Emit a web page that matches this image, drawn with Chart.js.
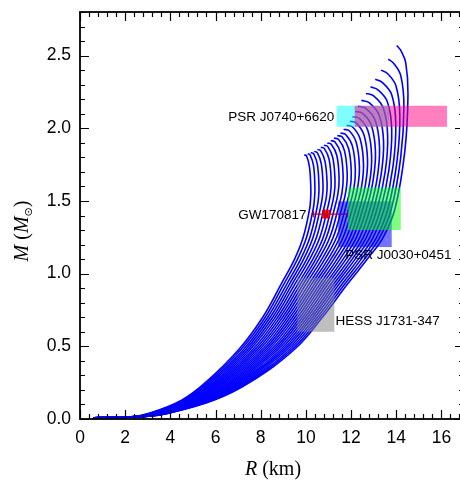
<!DOCTYPE html>
<html><head><meta charset="utf-8">
<script src="https://cdn.jsdelivr.net/npm/chart.js@4"></script>
<style>
html,body{margin:0;padding:0;overflow:hidden;background:#fff;width:460px;height:481px;}
canvas{display:block;}
</style></head>
<body>
<canvas id="c" width="470" height="481" style="width:470px;height:481px"></canvas>
<script>
// Mass levels (M_sun) shared by the lower branch of every curve
const LEVEL_M = [0.008, 0.015, 0.04, 0.13, 0.25, 0.48, 0.70, 0.93, 1.10, 1.25, 1.45];
// Radius (km) of each curve at those mass levels (curve 0 = leftmost)
const LOWER_R = [
 [0.6,2.23,3.07,4.50,5.55,7.04,8.09,8.91,9.50,9.88,10.17],
 [0.6,2.26,3.11,4.56,5.63,7.14,8.20,9.03,9.63,10.03,10.33],
 [0.6,2.28,3.14,4.62,5.71,7.25,8.31,9.16,9.77,10.18,10.49],
 [0.6,2.31,3.18,4.68,5.79,7.35,8.42,9.28,9.90,10.32,10.64],
 [0.6,2.33,3.22,4.74,5.88,7.45,8.53,9.40,10.04,10.47,10.80],
 [0.6,2.36,3.25,4.80,5.96,7.55,8.64,9.52,10.17,10.62,10.96],
 [0.6,2.38,3.29,4.86,6.04,7.66,8.75,9.65,10.31,10.77,11.12],
 [0.6,2.41,3.33,4.92,6.12,7.76,8.86,9.77,10.44,10.91,11.27],
 [0.6,2.44,3.36,4.98,6.20,7.86,8.97,9.89,10.57,11.06,11.43],
 [0.6,2.46,3.40,5.04,6.28,7.96,9.08,10.01,10.71,11.21,11.59],
 [0.6,2.49,3.44,5.10,6.36,8.07,9.19,10.14,10.84,11.36,11.75],
 [0.6,2.51,3.47,5.16,6.44,8.17,9.30,10.26,10.98,11.50,11.90],
 [0.6,2.54,3.51,5.22,6.53,8.27,9.41,10.38,11.11,11.65,12.06],
 [0.6,2.57,3.55,5.29,6.61,8.37,9.52,10.50,11.24,11.80,12.22],
 [0.6,2.59,3.58,5.35,6.69,8.48,9.63,10.63,11.38,11.95,12.38],
 [0.6,2.62,3.62,5.41,6.77,8.58,9.74,10.75,11.51,12.09,12.53],
 [0.6,2.64,3.66,5.47,6.85,8.68,9.85,10.87,11.65,12.24,12.69],
 [0.6,2.67,3.69,5.53,6.93,8.78,9.96,10.99,11.78,12.39,12.85],
 [0.6,2.69,3.73,5.59,7.01,8.89,10.07,11.12,11.92,12.54,13.01],
 [0.6,2.72,3.77,5.65,7.09,8.99,10.18,11.24,12.05,12.68,13.16],
 [0.6,2.75,3.80,5.71,7.18,9.09,10.29,11.36,12.18,12.83,13.32],
 [0.6,2.77,3.84,5.77,7.26,9.19,10.40,11.48,12.32,12.98,13.48],
 [0.6,2.80,3.88,5.83,7.34,9.30,10.51,11.61,12.45,13.13,13.64],
 [0.6,2.82,3.91,5.89,7.42,9.40,10.62,11.73,12.59,13.27,13.79],
 [0.6,2.85,3.95,5.95,7.50,9.50,10.73,11.85,12.72,13.42,13.95]
];
// Upper branch (turn-over and end of each curve): radius (km)
const UPPER_R = [
 [10.21,10.22,10.16,10.03,9.93],
 [10.38,10.40,10.34,10.19,10.08],
 [10.56,10.58,10.51,10.35,10.22],
 [10.73,10.76,10.68,10.51,10.37],
 [10.91,10.94,10.85,10.66,10.51],
 [11.08,11.12,11.03,10.82,10.66],
 [11.25,11.29,11.19,10.97,10.80],
 [11.42,11.47,11.37,11.13,10.95],
 [11.60,11.65,11.54,11.29,11.10],
 [11.77,11.83,11.71,11.45,11.24],
 [11.95,12.01,11.89,11.61,11.39],
 [12.12,12.19,12.06,11.76,11.53],
 [12.29,12.37,12.23,11.92,11.67],
 [12.47,12.55,12.40,12.07,11.81],
 [12.64,12.73,12.57,12.22,11.95],
 [12.82,12.91,12.74,12.36,12.06],
 [12.98,13.08,12.90,12.50,12.18],
 [13.16,13.26,13.07,12.64,12.31],
 [13.33,13.44,13.24,12.80,12.46],
 [13.51,13.62,13.43,13.00,12.66],
 [13.68,13.80,13.61,13.19,12.86],
 [13.86,13.98,13.80,13.39,13.07],
 [14.03,14.16,13.99,13.62,13.33],
 [14.20,14.34,14.20,13.89,13.65],
 [14.38,14.52,14.42,14.20,14.02]
];
// Upper branch: mass (M_sun)
const UPPER_M = [
 [1.516,1.582,1.735,1.809,1.818],
 [1.519,1.588,1.742,1.816,1.825],
 [1.523,1.595,1.750,1.823,1.833],
 [1.526,1.602,1.757,1.831,1.841],
 [1.532,1.614,1.771,1.845,1.855],
 [1.539,1.627,1.785,1.860,1.870],
 [1.545,1.639,1.798,1.874,1.884],
 [1.551,1.652,1.813,1.889,1.899],
 [1.559,1.667,1.829,1.906,1.916],
 [1.566,1.682,1.845,1.923,1.933],
 [1.574,1.697,1.861,1.940,1.950],
 [1.581,1.711,1.877,1.957,1.967],
 [1.592,1.734,1.902,1.983,1.993],
 [1.604,1.757,1.928,2.009,2.020],
 [1.616,1.782,1.955,2.037,2.048],
 [1.630,1.810,1.986,2.069,2.080],
 [1.645,1.840,2.019,2.104,2.115],
 [1.661,1.872,2.054,2.138,2.152],
 [1.679,1.907,2.092,2.176,2.192],
 [1.700,1.949,2.138,2.223,2.240],
 [1.719,1.988,2.181,2.264,2.285],
 [1.742,2.033,2.231,2.314,2.337],
 [1.769,2.088,2.291,2.375,2.400],
 [1.802,2.153,2.362,2.446,2.475],
 [1.843,2.235,2.452,2.536,2.569]
];

// Observational constraint boxes
const BOX_NAMES  = ['J0740 Riley', 'J0740 Miller', 'J0030 Riley', 'J0030 Miller', 'HESS J1731-347'];
const BOX_R_MIN  = [11.36, 12.16, 11.43, 11.86, 9.62];
const BOX_R_MAX  = [13.69, 16.25, 13.80, 14.20, 11.26];
const BOX_M_MIN  = [2.010, 2.010, 1.183, 1.300, 0.600];
const BOX_M_MAX  = [2.155, 2.155, 1.497, 1.593, 0.970];

// GW170817
const GW_M = 1.41;
const GW_R_RANGE = [10.34, 11.86];
const GW_R_POINTS = [10.76, 10.83, 10.90, 10.97, 11.04];

// Text labels
const LABEL_TEXT = ['PSR J0740+6620', 'GW170817', 'PSR J0030+0451', 'HESS J1731-347'];

// Axis ticks
const X_TICKS = [0, 2, 4, 6, 8, 10, 12, 14, 16];
const Y_TICKS = [0.0, 0.5, 1.0, 1.5, 2.0, 2.5];

// ---------- styling (not data) ----------
const BOX_COLORS = ['rgba(0,255,255,0.5)', 'rgba(255,0,128,0.5)', 'rgba(0,0,255,0.55)', 'rgba(0,255,0,0.5)', 'rgba(128,128,128,0.5)'];
const LABEL_ANCHOR = [ // [R, M, align]
  [11.26, 2.078, 'right'],
  [10.03, 1.403, 'right'],
  [11.74, 1.125, 'left'],
  [11.31, 0.674, 'left']
];

const curveSets = LOWER_R.map((row, i) => {
  const pts = row.map((r, k) => ({x: r, y: LEVEL_M[k]}));
  UPPER_R[i].forEach((r, k) => pts.push({x: r, y: UPPER_M[i][k]}));
  return {data: pts, showLine: true, borderColor: '#0000ff', borderWidth: 1.6,
          pointRadius: 0, tension: 0.4, fill: false, clip: false};
});

const gwSets = [
  {data: GW_R_POINTS.map(r => ({x: r, y: GW_M})), showLine: false, pointStyle: 'line', rotation: 90,
   pointRadius: 4.4, pointBorderColor: '#d80000', pointBorderWidth: 1.6, pointBackgroundColor: '#d80000'},
  {data: GW_R_RANGE.map(r => ({x: r, y: GW_M})), showLine: true, borderColor: '#d80000', borderWidth: 1.2,
   pointStyle: 'line', rotation: 90, pointRadius: 3.2, pointBorderColor: '#d80000', pointBorderWidth: 1.2}
];

const framePlugin = {
  id: 'frame',
  afterDatasetsDraw(chart) {
    const {ctx, chartArea: a, scales: {x, y}} = chart;
    ctx.save();
    BOX_NAMES.forEach((n, i) => {
      const x0 = x.getPixelForValue(BOX_R_MIN[i]), x1 = x.getPixelForValue(BOX_R_MAX[i]);
      const y0 = y.getPixelForValue(BOX_M_MAX[i]), y1 = y.getPixelForValue(BOX_M_MIN[i]);
      ctx.fillStyle = BOX_COLORS[i];
      ctx.fillRect(x0, y0, x1 - x0, y1 - y0);
    });
    ctx.strokeStyle = '#000';
    ctx.lineWidth = 1.8;
    ctx.strokeRect(a.left, a.top, a.right - a.left, a.bottom - a.top);
    ctx.lineWidth = 1.2;
    ctx.beginPath();
    for (let k = 0; k <= 42; k++) {
      const v = +(k * 0.4).toFixed(2);
      const major = X_TICKS.some(t => Math.abs(t - v) < 1e-6);
      const L = major ? 9 : 5;
      const px = Math.round(x.getPixelForValue(v)) + 0.5;
      if (px > a.right) continue;
      ctx.moveTo(px, a.bottom); ctx.lineTo(px, a.bottom - L);
      ctx.moveTo(px, a.top); ctx.lineTo(px, a.top + L);
    }
    for (let k = 0; k <= 28; k++) {
      const v = +(k * 0.1).toFixed(2);
      const major = Y_TICKS.some(t => Math.abs(t - v) < 1e-6);
      const L = major ? 9 : 5;
      const py = Math.round(y.getPixelForValue(v)) + 0.5;
      ctx.moveTo(a.left, py); ctx.lineTo(a.left + L, py);
      ctx.moveTo(a.right, py); ctx.lineTo(a.right - L, py);
    }
    ctx.stroke();
    ctx.fillStyle = '#000';
    ctx.font = '13.5px "Liberation Sans", Arial, sans-serif';
    ctx.textBaseline = 'middle';
    LABEL_TEXT.forEach((t, i) => {
      const [r, m, al] = LABEL_ANCHOR[i];
      ctx.textAlign = al;
      ctx.fillText(t, x.getPixelForValue(r), y.getPixelForValue(m));
    });
    ctx.restore();
  },
  afterDraw(chart) {
    const {ctx, chartArea: a} = chart;
    ctx.save();
    ctx.fillStyle = '#000';
    ctx.textBaseline = 'alphabetic';
    ctx.textAlign = 'left';
    const serif = '"Liberation Serif", "Times New Roman", serif';
    const drawPieces = (pieces, cx, cy) => {
      let w = 0;
      pieces.forEach(p => { ctx.font = p.f; w += ctx.measureText(p.t).width; });
      let xx = cx - w / 2;
      pieces.forEach(p => { ctx.font = p.f; ctx.fillText(p.t, xx, cy + (p.dy || 0)); xx += ctx.measureText(p.t).width; });
    };
    drawPieces([{t: 'R', f: 'italic 20px ' + serif}, {t: ' (km)', f: '20px ' + serif}], (a.left + 460) / 2 + 3, 475);
    ctx.translate(28, 231);
    ctx.rotate(-Math.PI / 2);
    drawPieces([
      {t: 'M', f: 'italic 20px ' + serif},
      {t: ' (', f: '20px ' + serif},
      {t: 'M', f: 'italic 20px ' + serif},
      {t: '\u2299', f: '11px "DejaVu Sans", sans-serif', dy: 4},
      {t: ')', f: '20px ' + serif}
    ], 0, 0);
    ctx.restore();
  }
};

new Chart(document.getElementById('c'), {
  type: 'scatter',
  data: {datasets: [...gwSets, ...curveSets]},
  options: {
    responsive: false,
    animation: false,
    layout: {padding: {top: 12, right: 2, left: 0, bottom: 0}},
    plugins: {legend: {display: false}, tooltip: {enabled: false}},
    scales: {
      x: {
        type: 'linear', min: 0, max: 17, position: 'bottom',
        afterBuildTicks: s => { s.ticks = X_TICKS.map(v => ({value: v})); },
        afterFit: s => { s.height = 62; s.paddingLeft = 0; s.paddingRight = 0; },
        grid: {display: false, drawTicks: false},
        border: {display: false},
        ticks: {padding: 9, color: '#000', font: {family: '"Liberation Sans", Arial, sans-serif', size: 17.5},
                maxRotation: 0, callback: v => String(v)}
      },
      y: {
        type: 'linear', min: 0, max: 2.8, position: 'left',
        afterBuildTicks: s => { s.ticks = Y_TICKS.map(v => ({value: v})); },
        afterFit: s => { s.width = 80; s.paddingTop = 0; s.paddingBottom = 0; },
        grid: {display: false, drawTicks: false},
        border: {display: false},
        ticks: {padding: 9, color: '#000', font: {family: '"Liberation Sans", Arial, sans-serif', size: 17.5},
                callback: v => Number(v).toFixed(1)}
      }
    }
  },
  plugins: [framePlugin]
});
</script>
</body></html>
